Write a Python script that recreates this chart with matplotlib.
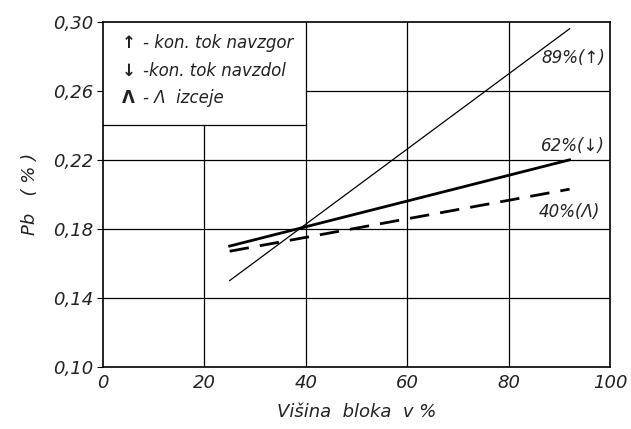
import matplotlib.pyplot as plt
from matplotlib.patches import Rectangle

# values
x_ends = [25, 92]
pb_89 = [0.150, 0.296]   # 89% (up-flow)
pb_62 = [0.170, 0.220]   # 62% (down-flow)
pb_40 = [0.167, 0.203]   # 40% (Λ)
x_ticks = [0, 20, 40, 60, 80, 100]
y_ticks = [0.10, 0.14, 0.18, 0.22, 0.26, 0.30]
y_labels = ["0,10", "0,14", "0,18", "0,22", "0,26", "0,30"]
legend_rows = [("↑", "- kon. tok navzgor"), ("↓", "-kon. tok navzdol"), ("Λ", "- Λ  izceje")]

plt.rcParams["font.family"] = "DejaVu Sans"
fig = plt.figure(figsize=(6.31, 4.29), dpi=100)
ax = fig.add_axes([0.163, 0.145, 0.804, 0.804])
ax.set_xlim(0, 100)
ax.set_ylim(0.10, 0.30)

# hand drawn grid, partly interrupted by the legend box
k = dict(color="black", lw=0.9)
for gx in [60, 80]:
    ax.plot([gx, gx], [0.10, 0.30], **k)
ax.plot([40, 40], [0.10, 0.30], **k)
ax.plot([20, 20], [0.10, 0.24], **k)
for gy in [0.14, 0.18, 0.22]:
    ax.plot([0, 100], [gy, gy], **k)
ax.plot([40, 100], [0.26, 0.26], **k)
ax.plot([0, 40], [0.24, 0.24], **k)

ax.plot(x_ends, pb_89, color="black", lw=0.9)
ax.plot(x_ends, pb_62, color="black", lw=2.0)
ax.plot(x_ends, pb_40, color="black", lw=2.0, dashes=(7, 4))

tstyle = dict(fontsize=12, fontstyle="italic", color="#222222")
ax.text(99, 0.279, "89%(↑)", ha="right", va="center", **tstyle)
ax.text(99, 0.228, "62%(↓)", ha="right", va="center", **tstyle)
ax.text(98, 0.190, "40%(Λ)", ha="right", va="center", **tstyle)

box = Rectangle((0, 0.24), 40, 0.06, transform=ax.transData, fill=False, visible=False)
ax.add_patch(box)
for i, (sym, txt) in enumerate(legend_rows):
    yy = 0.288 - i * 0.0162
    ax.text(5, yy, sym, ha="center", va="center", fontsize=12, fontweight="bold", color="#222222")
    t = ax.text(8, yy, txt, ha="left", va="center", **tstyle)
    t.set_clip_path(box)

for s in ax.spines.values():
    s.set_linewidth(1.2)

ax.set_xticks(x_ticks)
ax.set_xticklabels([str(v) for v in x_ticks], fontsize=13, fontstyle="italic", color="#222222")
ax.set_yticks(y_ticks)
ax.set_yticklabels(y_labels, fontsize=13, fontstyle="italic", color="#222222")
ax.tick_params(axis="x", length=0, pad=5)
ax.tick_params(axis="y", length=4, direction="out", pad=3)

ax.set_xlabel("Višina  bloka  v %", fontsize=13, fontstyle="italic", color="#222222", labelpad=8)
ax.set_ylabel("Pb   ( % )", fontsize=13, fontstyle="italic", color="#222222", labelpad=10)

fig.savefig("out.png", dpi=100)
